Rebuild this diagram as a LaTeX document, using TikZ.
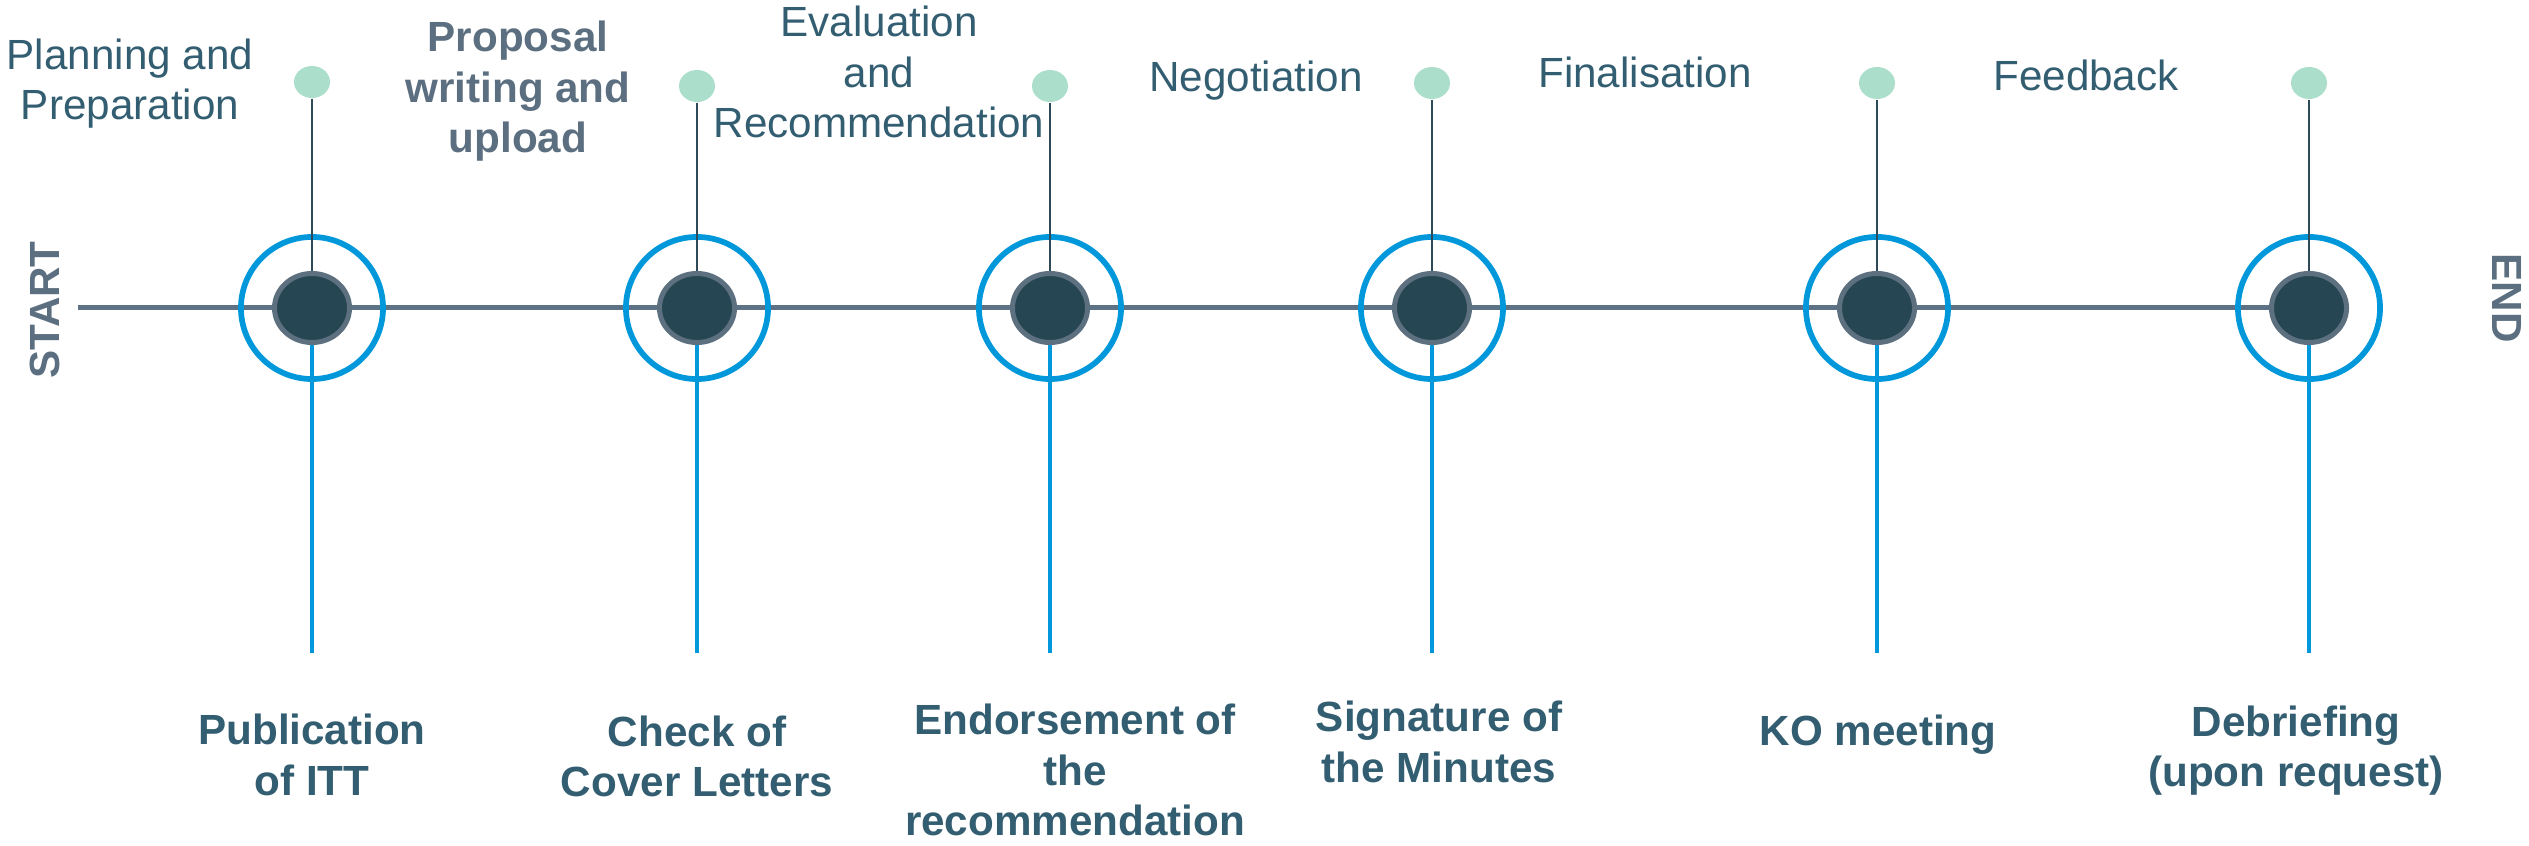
\documentclass[tikz,border=0pt]{standalone}
\usepackage{fontspec}
\setmainfont{Liberation Sans}
\usetikzlibrary{positioning, shapes.geometric}
\definecolor{linegray}{HTML}{5D7385}
\definecolor{ringblue}{HTML}{0098DA}
\definecolor{dotdark}{HTML}{264654}
\definecolor{dotrim}{HTML}{5D7080}
\definecolor{mint}{HTML}{ABDFCB}
\definecolor{stemdark}{HTML}{2E4A58}
\definecolor{labelteal}{HTML}{335E71}
\definecolor{labelgray}{HTML}{5B6F80}

\begin{document}
\begin{tikzpicture}[
		x=0.01cm, y=-0.01cm,
		ring/.style={draw=ringblue, line width=0.57mm, circle, minimum size=1.42cm, inner sep=0pt},
		milestone/.style={draw=dotrim, fill=dotdark, line width=0.5mm, ellipse, minimum width=0.75cm, minimum height=0.69cm, inner sep=0pt},
		bud/.style={fill=mint, ellipse, minimum width=0.36cm, minimum height=0.32cm, inner sep=0pt},
		phase/.style={text=labelteal, font=\fontsize{12}{14.5}\selectfont, align=center, anchor=base, inner sep=0pt},
		event/.style={phase, font=\fontsize{12}{14.5}\selectfont\bfseries},
		endpoint/.style={text=labelgray, font=\fontsize{12}{14.5}\selectfont\bfseries, inner sep=0pt},
		timeline/.style={draw=linegray, line width=0.5mm},
		stem/.style={draw=stemdark, line width=0.2mm},
		drop/.style={draw=ringblue, line width=0.4mm}
		]
		\useasboundingbox (0,0) rectangle (2529,846);
		
		% Time axis
		\coordinate (lstart) at (78,308);
		\coordinate (lend) at (2277,308);
		\draw[timeline] (lstart) -- (lend);
		\node[endpoint, rotate=90] (start) at (45,310) {START};
		\node[endpoint, rotate=-90] (end) at (2507,298) {END};
		
		% Milestones
		\foreach \n/\x/\t in {1/312/82, 2/697/86, 3/1050/86, 4/1432/83, 5/1877/83, 6/2309/83} {
			\node[ring] (ring\n) at (\x,308) {};
			\node[bud] (bud\n) at (\x,\t) {};
			\coordinate (foot\n) at (\x,653);
			\node[milestone] (ms\n) at (\x,308) {};
			\draw[stem] (bud\n) -- (ms\n);
			\draw[drop] (ms\n) -- (foot\n);
		}
		
		% Phases (anchored at the last baseline)
		\node[phase] (planning) at (130,120) {Planning and\\Preparation};
		\node[phase, font=\fontsize{12}{14.5}\selectfont\bfseries, text=labelgray] (proposal) at (518,153) {Proposal\\writing and\\upload};
		\node[phase] (evaluation) at (879,138) {Evaluation\\and\\Recommendation};
		\node[phase] (negotiation) at (1256,92) {Negotiation};
		\node[phase] (finalisation) at (1645,88) {Finalisation};
		\node[phase] (feedback) at (2086,91) {Feedback};
		
		% Events
		\node[event] (publication) at (312,795) {Publication\\of ITT};
		\node[event] (check) at (697,797) {Check of\\Cover Letters};
		\node[event] (endorsement) at (1075,836) {Endorsement of\\the\\recommendation};
		\node[event] (signature) at (1439,782) {Signature of\\the Minutes};
		\node[event] (kickoff) at (1878,745) {KO meeting};
		\node[event] (debriefing) at (2296,787) {Debriefing\\(upon request)};
	\end{tikzpicture}
\end{document}
